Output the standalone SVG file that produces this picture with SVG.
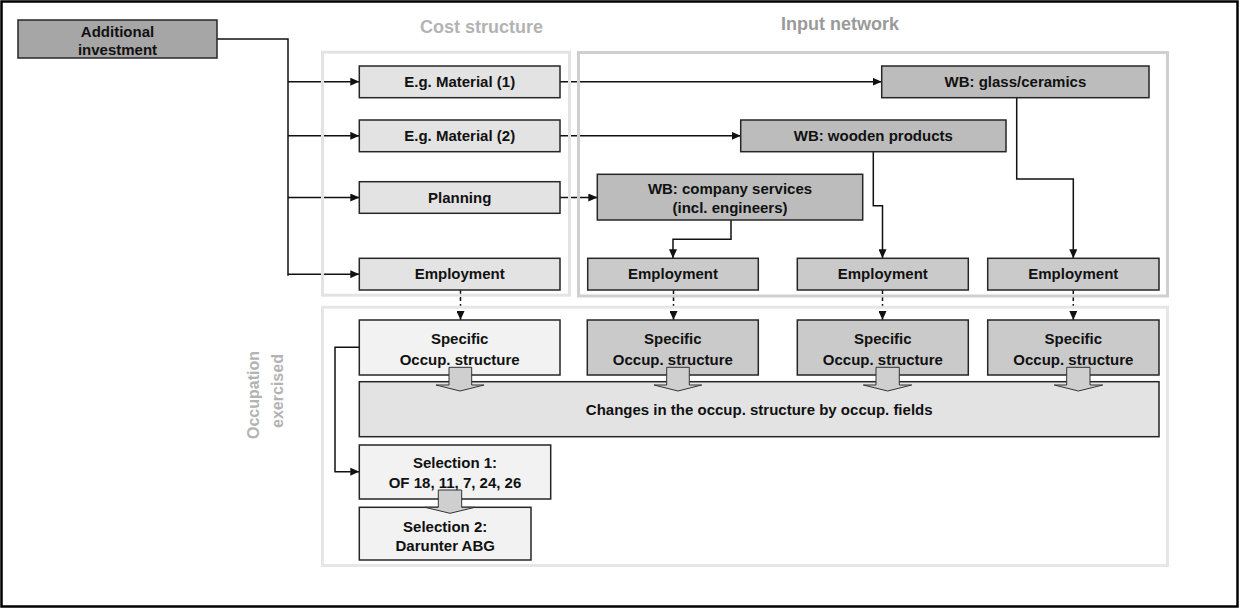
<svg xmlns="http://www.w3.org/2000/svg" width="1240" height="608" viewBox="0 0 1240 608">
<defs>
<marker id="ah" markerUnits="userSpaceOnUse" markerWidth="9" markerHeight="8" refX="9" refY="4" orient="auto">
<path d="M0,0 L9,4 L0,8 z" fill="#111"/>
</marker>
<style>
.t{font-family:"Liberation Sans",Arial,sans-serif;font-weight:bold;font-size:15px;fill:#111;text-anchor:middle}
.hd{font-family:"Liberation Sans",Arial,sans-serif;font-weight:bold;font-size:18px;text-anchor:middle}
.n{stroke:#262626;stroke-width:1.5}
.light{fill:#e3e3e3}
.pale{fill:#f2f2f2}
.mid{fill:#cacaca}
.dark{fill:#bcbcbc}
.c{fill:none;stroke:#111;stroke-width:1.5}
.d{fill:none;stroke:#111;stroke-width:1.5;stroke-dasharray:4 3}
.blk{fill:#cfcfcf;stroke:#333;stroke-width:1}
.grp{fill:none;stroke-width:3}
</style>
</defs>
<rect x="0" y="0" width="1240" height="608" fill="#ffffff"/>
<rect x="1.5" y="1.5" width="1236" height="605" fill="none" stroke="#000" stroke-width="2.5"/>

<g id="connectors">
<path class="c" d="M217,39 H288 V275.7"/>
<path class="c" d="M288,81.7 H359.3" marker-end="url(#ah)"/>
<path class="c" d="M288,135.8 H359.3" marker-end="url(#ah)"/>
<path class="c" d="M288,197.5 H359.3" marker-end="url(#ah)"/>
<path class="c" d="M288,274.2 H359.3" marker-end="url(#ah)"/>
<path class="c" d="M560,81.7 H881.7" marker-end="url(#ah)"/>
<path class="c" d="M560,135.8 H740.7" marker-end="url(#ah)"/>
<path class="c" d="M560,197.5 H597.3" marker-end="url(#ah)"/>
<path class="c" d="M731,220 V239.3 H673 V258.3" marker-end="url(#ah)"/>
<path class="c" d="M873.3,151.7 V205.7 H882.5 V258.3" marker-end="url(#ah)"/>
<path class="c" d="M1016.7,97.7 V179 H1073.3 V258.3" marker-end="url(#ah)"/>
<path class="d" d="M460.5,290 V320" marker-end="url(#ah)"/>
<path class="d" d="M673.5,290 V320" marker-end="url(#ah)"/>
<path class="d" d="M882.5,290 V320" marker-end="url(#ah)"/>
<path class="d" d="M1073.3,290 V320" marker-end="url(#ah)"/>
<path class="c" d="M359.3,347.3 H335 V471.7 H359.3" marker-end="url(#ah)"/>
</g>

<g id="groups">
<rect class="grp" x="322.5" y="52.2" width="247" height="243" stroke="#e3e3e3"/>
<rect class="grp" x="578.5" y="52.5" width="589" height="243.5" stroke="#cfcfcf"/>
<rect class="grp" x="322.5" y="307.2" width="845" height="258.3" stroke="#e6e6e6"/>
<text class="hd" x="481.5" y="33" fill="#b3b3b3">Cost structure</text>
<text class="hd" x="840" y="30" fill="#9a9a9a">Input network</text>
<text class="hd" style="font-size:16px" fill="#b3b3b3" transform="translate(259.3,395) rotate(-90)">Occupation</text>
<text class="hd" style="font-size:16px" fill="#b3b3b3" transform="translate(282.5,391) rotate(-90)">exercised</text>
</g>

<g id="additional-investment">
<rect class="n" x="18" y="20" width="199" height="38" fill="#a6a6a6"/>
<text class="t" x="117.5" y="36.5">Additional</text>
<text class="t" x="117.5" y="55">investment</text>
</g>

<g id="material1">
<rect class="n light" x="359.3" y="66" width="200.7" height="31.7"/>
<text class="t" x="459.7" y="87">E.g. Material (1)</text>
</g>
<g id="material2">
<rect class="n light" x="359.3" y="120" width="200.7" height="31.7"/>
<text class="t" x="459.7" y="141">E.g. Material (2)</text>
</g>
<g id="planning">
<rect class="n light" x="359.3" y="181.7" width="200.7" height="31.6"/>
<text class="t" x="459.7" y="202.7">Planning</text>
</g>
<g id="employment-cost">
<rect class="n light" x="359.3" y="258.3" width="200.7" height="31.7"/>
<text class="t" x="459.7" y="279.3">Employment</text>
</g>

<g id="wb-glass">
<rect class="n dark" x="881.7" y="66" width="267.3" height="31.7"/>
<text class="t" x="1015.4" y="87">WB: glass/ceramics</text>
</g>
<g id="wb-wooden">
<rect class="n dark" x="740.7" y="120" width="265.3" height="31.7"/>
<text class="t" x="873.3" y="141">WB: wooden products</text>
</g>
<g id="wb-company">
<rect class="n dark" x="597.3" y="174.3" width="265.4" height="45.7"/>
<text class="t" x="730" y="194">WB: company services</text>
<text class="t" x="730" y="213">(incl. engineers)</text>
</g>

<g id="employment-1">
<rect class="n mid" x="587.7" y="258.3" width="170.6" height="31.7"/>
<text class="t" x="673" y="279.3">Employment</text>
</g>
<g id="employment-2">
<rect class="n mid" x="797.3" y="258.3" width="171" height="31.7"/>
<text class="t" x="882.8" y="279.3">Employment</text>
</g>
<g id="employment-3">
<rect class="n mid" x="987.7" y="258.3" width="171.3" height="31.7"/>
<text class="t" x="1073.3" y="279.3">Employment</text>
</g>

<g id="specific-cost">
<rect class="n pale" x="359.3" y="320" width="200.7" height="55"/>
<text class="t" x="459.7" y="343.5">Specific</text>
<text class="t" x="459.7" y="364.5">Occup. structure</text>
</g>
<g id="specific-1">
<rect class="n mid" x="587.3" y="320" width="171" height="55"/>
<text class="t" x="672.8" y="343.5">Specific</text>
<text class="t" x="672.8" y="364.5">Occup. structure</text>
</g>
<g id="specific-2">
<rect class="n mid" x="797.3" y="320" width="171" height="55"/>
<text class="t" x="882.8" y="343.5">Specific</text>
<text class="t" x="882.8" y="364.5">Occup. structure</text>
</g>
<g id="specific-3">
<rect class="n mid" x="987.7" y="320" width="171.3" height="55"/>
<text class="t" x="1073.3" y="343.5">Specific</text>
<text class="t" x="1073.3" y="364.5">Occup. structure</text>
</g>

<g id="changes">
<rect class="n light" x="359.3" y="381.7" width="799.7" height="55"/>
<text class="t" x="759.2" y="415">Changes in the occup. structure by occup. fields</text>
</g>

<g id="selection1">
<rect class="n pale" x="359.3" y="445" width="191.4" height="54"/>
<text class="t" x="455" y="468.3">Selection 1:</text>
<text class="t" x="455" y="488.3">OF 18, 11, 7, 24, 26</text>
</g>
<g id="selection2">
<rect class="n pale" x="359.3" y="507.3" width="171.7" height="52.7"/>
<text class="t" x="445.2" y="531.5">Selection 2:</text>
<text class="t" x="445.2" y="550.5">Darunter ABG</text>
</g>

<g id="block-arrows">
<path class="blk" d="M449,367.3 H471.7 V385 H484 L460,391 L436,385 H449 Z"/>
<path class="blk" d="M666.7,367.3 H689.3 V385 H701.7 L678,391 L654,385 H666.7 Z"/>
<path class="blk" d="M876,367.3 H899.3 V385 H911.7 L887.6,391 L863.3,385 H876 Z"/>
<path class="blk" d="M1066.7,367.3 H1090 V385 H1102.7 L1078.4,391 L1054.3,385 H1066.7 Z"/>
<path class="blk" d="M438.3,490 H461.7 V507.3 H475 L450,513.3 L425,507.3 H438.3 Z"/>
</g>
</svg>
